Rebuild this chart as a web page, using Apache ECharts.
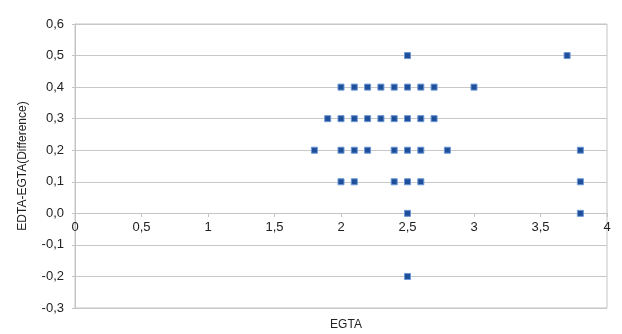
<!DOCTYPE html>
<html>
<head>
<meta charset="utf-8">
<script src="https://cdn.jsdelivr.net/npm/echarts@6/dist/echarts.min.js"></script>
<style>
html,body{margin:0;padding:0;background:#fff;}
#chart{width:622px;height:334px;}
</style>
</head>
<body>
<div id="chart"></div>
<script>
// Data
var egta = [2.5, 3.7,
  2.0, 2.1, 2.2, 2.3, 2.4, 2.5, 2.6, 2.7, 3.0,
  1.9, 2.0, 2.1, 2.2, 2.3, 2.4, 2.5, 2.6, 2.7,
  1.8, 2.0, 2.1, 2.2, 2.4, 2.5, 2.6, 2.8, 3.8,
  2.0, 2.1, 2.4, 2.5, 2.6, 3.8,
  2.5, 3.8,
  2.5];
var difference = [0.5, 0.5,
  0.4, 0.4, 0.4, 0.4, 0.4, 0.4, 0.4, 0.4, 0.4,
  0.3, 0.3, 0.3, 0.3, 0.3, 0.3, 0.3, 0.3, 0.3,
  0.2, 0.2, 0.2, 0.2, 0.2, 0.2, 0.2, 0.2, 0.2,
  0.1, 0.1, 0.1, 0.1, 0.1, 0.1,
  0.0, 0.0,
  -0.2];
var xTicks = {min: 0, max: 4, interval: 0.5};
var yTicks = {min: -0.3, max: 0.6, interval: 0.1};
var xTitle = 'EGTA';
var yTitle = 'EDTA-EGTA(Difference)';

var points = egta.map(function (x, i) { return [x, difference[i]]; });

var gridTop = 24, gridBottom = 26, H = 334;
var plotH = H - gridTop - gridBottom;
// the x axis crosses the y axis at value 0
var zeroOffset = -Math.round((0 - yTicks.min) / (yTicks.max - yTicks.min) * plotH);

var chart = echarts.init(document.getElementById('chart'));
var font = 'Liberation Sans, Arial, sans-serif';
chart.setOption({
  animation: false,
  backgroundColor: '#ffffff',
  grid: {left: 75, right: 15, top: gridTop, bottom: gridBottom, show: true, borderColor: '#c4c4c4', borderWidth: 1,
    containLabel: false, outerBoundsMode: 'none'},
  title: {
    text: xTitle, left: 341, top: 314, textAlign: 'center',
    textStyle: {fontFamily: font, fontSize: 12, fontWeight: 'normal', color: '#222'}
  },
  xAxis: {
    type: 'value',
    min: xTicks.min, max: xTicks.max, interval: xTicks.interval,
    offset: zeroOffset,
    axisLine: {onZero: false, lineStyle: {color: '#c4c4c4', width: 1}},
    axisTick: {show: true, length: 4, inside: false, lineStyle: {color: '#c4c4c4'}},
    axisLabel: {fontFamily: font, fontSize: 13, color: '#222', margin: 8,
      formatter: function (v) { return String(v).replace('.', ','); }},
    splitLine: {show: false}
  },
  yAxis: {
    type: 'value',
    min: yTicks.min, max: yTicks.max, interval: yTicks.interval,
    name: yTitle, nameLocation: 'middle', nameGap: 46,
    nameTextStyle: {fontFamily: font, fontSize: 12, color: '#222'},
    axisLine: {show: true, onZero: false, lineStyle: {color: '#c4c4c4', width: 1}},
    axisTick: {show: true, length: 3, lineStyle: {color: '#c4c4c4'}},
    axisLabel: {fontFamily: font, fontSize: 13, color: '#222', margin: 11,
      formatter: function (v) { return (Math.round(v * 10) / 10).toFixed(1).replace('.', ','); }},
    splitLine: {show: true, lineStyle: {color: '#c8c8c8', width: 1}}
  },
  series: [{
    type: 'scatter',
    data: points,
    symbol: 'rect',
    symbolSize: 6,
    itemStyle: {color: '#1f4f99', borderColor: '#6b97d6', borderWidth: 1, opacity: 1}
  }]
});
</script>
</body>
</html>
